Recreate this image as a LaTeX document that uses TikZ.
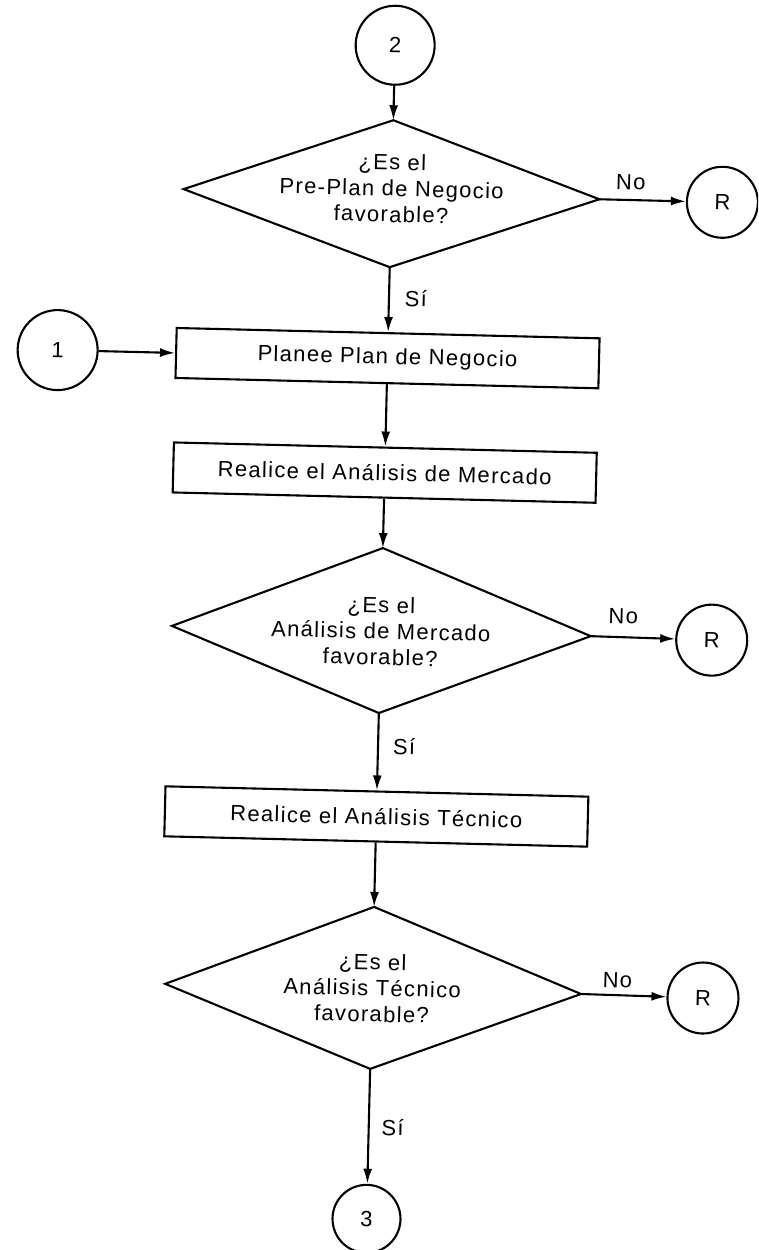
\documentclass[tikz,border=0pt]{standalone}
\usepackage{fontspec}
\setmainfont{Liberation Sans}[LetterSpace=6]
\usetikzlibrary{arrows.meta,shapes.geometric}
\begin{document}
\begin{tikzpicture}[x=1pt,y=-1pt,
  every node/.style={font=\fontsize{22}{26}\selectfont, inner sep=0pt},
  arr/.style={line width=2.1pt,-{Latex[length=15pt,width=9pt]}},
  conn/.style={circle, draw, line width=2.1pt, minimum size=#1},
  procbox/.style={rectangle, draw, line width=2.1pt, minimum width=423pt, minimum height=50pt},
  decis/.style={draw, line width=2.1pt, line join=miter},
  qtext/.style={align=center}]
\useasboundingbox (0,0) rectangle (758,1250);
\clip (0,0) rectangle (758,1250);
\begin{scope}[rotate around={-1.4:(379,625)}, transform shape]
  % connectors (circles)
  \node[conn=79pt] (c2) at (381,45) {2};
  \node[conn=80pt] (c1) at (51,358) {1};
  \node[conn=71pt] (r1) at (712,194) {R};
  \node[conn=71pt] (r2) at (712,632) {R};
  \node[conn=71pt] (r3) at (712,990) {R};
  \node[conn=68pt] (c3) at (381,1219) {3};
  % process boxes
  \node[procbox] (b1) at (381,358) {Planee Plan de Negocio};
  \node[procbox] (b2) at (381,472.5) {Realice el Análisis de Mercado};
  \node[procbox] (b3) at (381,816.5) {Realice el Análisis Técnico};
  % decision 1
  \coordinate (d1t) at (381,120);
  \coordinate (d1l) at (173,194);
  \coordinate (d1r) at (589,194);
  \coordinate (d1b) at (381,267);
  \draw[decis] (d1t) -- (d1r) -- (d1b) -- (d1l) -- cycle;
  \node[qtext] (q1) at (381,188) {¿Es el\\Pre-Plan de Negocio\\favorable?};
  % decision 2
  \coordinate (d2t) at (381,548);
  \coordinate (d2l) at (172,631);
  \coordinate (d2r) at (591,631);
  \coordinate (d2b) at (381,713);
  \draw[decis] (d2t) -- (d2r) -- (d2b) -- (d2l) -- cycle;
  \node[qtext] (q2) at (381,631) {¿Es el\\Análisis de Mercado\\favorable?};
  % decision 3
  \coordinate (d3t) at (381,907);
  \coordinate (d3l) at (174,989);
  \coordinate (d3r) at (590,989);
  \coordinate (d3b) at (381,1069);
  \draw[decis] (d3t) -- (d3r) -- (d3b) -- (d3l) -- cycle;
  \node[qtext] (q3) at (381,988) {¿Es el\\Análisis Técnico\\favorable?};
  % arrows
  \draw[arr] (c2) -- (d1t);
  \draw[arr] (d1r) -- (r1);
  \draw[arr] (d1b) -- (b1);
  \draw[arr] (c1) -- (b1);
  \draw[arr] (b1) -- (b2);
  \draw[arr] (b2) -- (d2t);
  \draw[arr] (d2r) -- (r2);
  \draw[arr] (d2b) -- (b3);
  \draw[arr] (b3) -- (d3t);
  \draw[arr] (d3r) -- (r3);
  \draw[arr] (d3b) -- (c3);
  % labels
  \node (no1) at (620,176) {No};
  \node (si1) at (408,298) {Sí};
  \node (no2) at (623,610) {No};
  \node (si2) at (407,746) {Sí};
  \node (no3) at (626,974) {No};
  \node (si3) at (405,1127) {Sí};
\end{scope}
\end{tikzpicture}
\end{document}
